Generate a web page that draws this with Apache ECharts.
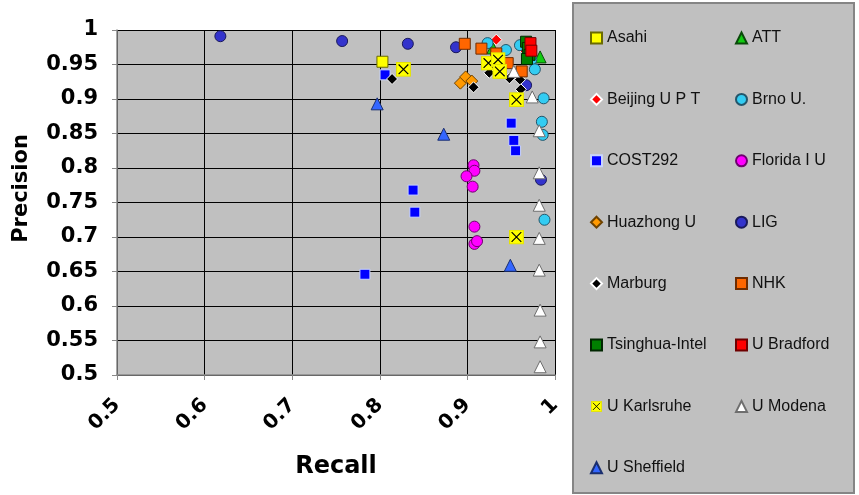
<!DOCTYPE html>
<html>
<head>
<meta charset="utf-8">
<script src="https://cdn.jsdelivr.net/npm/echarts@6/dist/echarts.min.js"></script>
<style>
  html, body { margin: 0; padding: 0; background: #ffffff; }
  #chart { width: 859px; height: 495px; }
</style>
</head>
<body>
<div id="chart"></div>
<script>
// Recall / precision pairs per participant: [recall, precision]
const asahi     = [[0.803, 0.954]];
const att       = [[0.929, 0.974], [0.983, 0.961]];
const beijing   = [[0.933, 0.986], [0.962, 0.975]];
const brno      = [[0.923, 0.981], [0.944, 0.971], [0.960, 0.978], [0.973, 0.957], [0.977, 0.943],
                   [0.987, 0.901], [0.985, 0.867], [0.986, 0.848], [0.988, 0.725]];
const cost292   = [[0.806, 0.935], [0.838, 0.768], [0.840, 0.736], [0.783, 0.646],
                   [0.950, 0.865], [0.953, 0.840], [0.955, 0.825]];
const florida   = [[0.907, 0.804], [0.908, 0.796], [0.899, 0.788], [0.906, 0.773],
                   [0.908, 0.715], [0.908, 0.690], [0.911, 0.694]];
const huazhong  = [[0.892, 0.923], [0.898, 0.932], [0.905, 0.926]];
const lig       = [[0.618, 0.991], [0.757, 0.984], [0.832, 0.980], [0.887, 0.975],
                   [0.967, 0.920], [0.984, 0.783]];
const marburg   = [[0.814, 0.929], [0.907, 0.917], [0.925, 0.938], [0.948, 0.930],
                   [0.960, 0.928], [0.961, 0.914]];
const nhk       = [[0.897, 0.980], [0.916, 0.973], [0.933, 0.966], [0.946, 0.952], [0.962, 0.940]];
const tsinghua  = [[0.967, 0.983], [0.969, 0.974], [0.971, 0.964], [0.968, 0.958]];
const bradford  = [[0.972, 0.981], [0.973, 0.970]];
const karlsruhe = [[0.827, 0.943], [0.924, 0.952], [0.935, 0.957], [0.937, 0.940],
                   [0.956, 0.899], [0.956, 0.700]];
const modena    = [[0.953, 0.940], [0.974, 0.903], [0.982, 0.854], [0.982, 0.793], [0.982, 0.746],
                   [0.982, 0.698], [0.982, 0.652], [0.983, 0.594], [0.983, 0.548], [0.983, 0.512]];
const sheffield = [[0.797, 0.893], [0.873, 0.849], [0.949, 0.659]];

const legendLeft  = ['Asahi', 'Beijing U P T', 'COST292', 'Huazhong U', 'Marburg', 'Tsinghua-Intel', 'U Karlsruhe', 'U Sheffield'];
const legendRight = ['ATT', 'Brno U.', 'Florida I U', 'LIG', 'NHK', 'U Bradford', 'U Modena'];

// Yellow square with a black cross, used for U Karlsruhe
const crossSvg = "<svg xmlns='http://www.w3.org/2000/svg' width='30' height='30' viewBox='0 0 13 13'>" +
  "<rect x='0.5' y='0.5' width='12' height='12' fill='#FFFF00' stroke='#E4E400' stroke-width='1'/>" +
  "<path d='M2.3 2.3L10.7 10.7M10.7 2.3L2.3 10.7' stroke='#000000' stroke-width='1' fill='none'/></svg>";
const crossSymbol = 'image://data:image/svg+xml;charset=utf-8,' + encodeURIComponent(crossSvg);

function scatter(name, data, symbol, size, color, border) {
  return {
    name: name,
    type: 'scatter',
    data: data,
    symbol: symbol,
    symbolSize: size,
    itemStyle: { color: color, borderColor: border, borderWidth: 1, opacity: 1 },
    emphasis: { disabled: true }
  };
}

const series = [
  scatter('Asahi', asahi, 'rect', 11, '#FFFF00', '#6B6B00'),
  scatter('ATT', att, 'triangle', 12, '#11CC11', '#0A4A0A'),
  scatter('Beijing U P T', beijing, 'diamond', 11, '#FF0000', '#FFFFFF'),
  scatter('Brno U.', brno, 'circle', 11, '#33CCF2', '#23566B'),
  scatter('COST292', cost292, 'rect', 10, '#0000FF', '#C8D4FF'),
  scatter('Florida I U', florida, 'circle', 11, '#FF00FF', '#6E006E'),
  scatter('Huazhong U', huazhong, 'diamond', 12, '#FF9900', '#6E4200'),
  scatter('LIG', lig, 'circle', 11, '#3333CC', '#1A1A5C'),
  scatter('Marburg', marburg, 'diamond', 11, '#000000', '#FFFFFF'),
  scatter('NHK', nhk, 'rect', 11, '#FF6600', '#6E2C00'),
  scatter('Tsinghua-Intel', tsinghua, 'rect', 11, '#008000', '#002600'),
  scatter('U Bradford', bradford, 'rect', 11, '#FF0000', '#6E0000'),
  scatter('U Karlsruhe', karlsruhe, crossSymbol, 15, '#FFFF00', '#FFFF00'),
  scatter('U Modena', modena, 'triangle', 12, '#FFFFFF', '#6E6E6E'),
  scatter('U Sheffield', sheffield, 'triangle', 12, '#3366FF', '#1A2E6E')
];

const legendText = { fontFamily: 'Liberation Sans', fontSize: 16, color: '#111111', lineHeight: 16 };
function legendColumn(left, names) {
  return {
    orient: 'vertical',
    left: left,
    top: 25,
    itemWidth: 11,
    itemHeight: 11,
    itemGap: 45.4,
    textStyle: legendText,
    selectedMode: false,
    data: names
  };
}

const chart = echarts.init(document.getElementById('chart'), null, { renderer: 'canvas' });
chart.setOption({
  backgroundColor: '#FFFFFF',
  animation: false,
  graphic: [{
    type: 'rect',
    left: 572, top: 2,
    shape: { width: 281, height: 490 },
    style: { fill: '#C0C0C0', stroke: '#858585', lineWidth: 2 },
    z: -10
  }],
  legend: [legendColumn(585, legendLeft), legendColumn(730, legendRight)],
  grid: {
    left: 117, right: 304, top: 30, bottom: 120,
    show: true, backgroundColor: '#C0C0C0', borderWidth: 0
  },
  xAxis: {
    type: 'value',
    min: 0.5, max: 1, interval: 0.1,
    name: 'Recall',
    nameLocation: 'middle',
    nameGap: 80,
    nameTextStyle: { fontFamily: 'DejaVu Sans', fontWeight: 'bold', fontSize: 24, color: '#000' },
    axisLine: { show: true, lineStyle: { color: '#8A8A8A', width: 1.5 } },
    axisTick: { show: true, length: 5, lineStyle: { color: '#8A8A8A' } },
    axisLabel: {
      rotate: 45, margin: 27,
      fontFamily: 'DejaVu Sans', fontWeight: 'bold', fontSize: 20, color: '#000',
      formatter: v => String(+v.toFixed(2))
    },
    splitLine: { show: true, lineStyle: { color: '#000000', width: 1 } }
  },
  yAxis: {
    type: 'value',
    min: 0.5, max: 1, interval: 0.05,
    name: 'Precision',
    nameLocation: 'middle',
    nameGap: 85,
    nameTextStyle: {
      fontFamily: 'DejaVu Sans', fontWeight: 'bold', fontSize: 21, color: '#000',
      padding: [0, 0, 0, 28]
    },
    axisLine: { show: true, lineStyle: { color: '#8A8A8A', width: 1.5 } },
    axisTick: { show: true, length: 5, lineStyle: { color: '#8A8A8A' } },
    axisLabel: {
      margin: 19,
      fontFamily: 'DejaVu Sans', fontWeight: 'bold', fontSize: 21, color: '#000',
      formatter: v => String(+v.toFixed(2))
    },
    splitLine: { show: true, lineStyle: { color: '#000000', width: 1 } }
  },
  series: series
});
</script>
</body>
</html>
